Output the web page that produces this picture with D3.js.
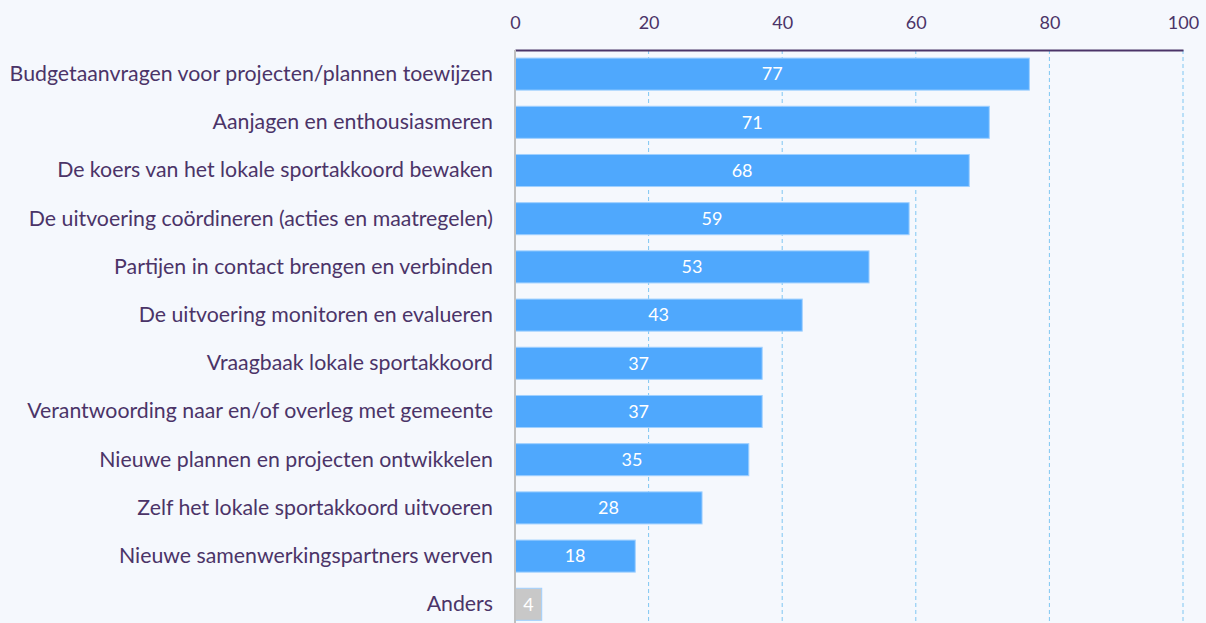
<!DOCTYPE html>
<html>
<head>
<meta charset="utf-8">
<script src="https://cdn.jsdelivr.net/npm/d3@7"></script>
<style>
  body { margin: 0; background: #f5f8fd; font-family: Lato, "Noto Sans", sans-serif; }
</style>
</head>
<body>
<script>
var categories = [
  "Budgetaanvragen voor projecten/plannen toewijzen",
  "Aanjagen en enthousiasmeren",
  "De koers van het lokale sportakkoord bewaken",
  "De uitvoering coördineren (acties en maatregelen)",
  "Partijen in contact brengen en verbinden",
  "De uitvoering monitoren en evalueren",
  "Vraagbaak lokale sportakkoord",
  "Verantwoording naar en/of overleg met gemeente",
  "Nieuwe plannen en projecten ontwikkelen",
  "Zelf het lokale sportakkoord uitvoeren",
  "Nieuwe samenwerkingspartners werven",
  "Anders"
];
var values = [77, 71, 68, 59, 53, 43, 37, 37, 35, 28, 18, 4];
var xTicks = [0, 20, 40, 60, 80, 100];

var W = 1206, H = 623;
var plotLeft = 515, plotRight = 1183, plotTop = 50;

var svg = d3.select("body").append("svg")
    .attr("width", W)
    .attr("height", H)
    .style("display", "block");

var x = d3.scaleLinear().domain([0, 100]).range([plotLeft, plotRight]);
var y = d3.scaleBand()
    .domain(categories)
    .range([plotTop, plotTop + 12 * 48.2])
    .paddingInner(0.335)
    .paddingOuter(0.1675);

// gridlines
svg.append("g")
  .selectAll("line")
  .data(xTicks.slice(1))
  .enter().append("line")
    .attr("x1", function(d) { return x(d); })
    .attr("x2", function(d) { return x(d); })
    .attr("y1", plotTop)
    .attr("y2", H)
    .attr("stroke", "#7fc6f2")
    .attr("stroke-width", 1)
    .attr("stroke-dasharray", "4,3");

// bars
svg.selectAll(".bar")
    .data(values)
  .enter().append("rect")
    .attr("class", "bar")
    .attr("x", x(0))
    .attr("y", function(d, i) { return y(categories[i]); })
    .attr("width", function(d) { return x(d) - x(0); })
    .attr("height", y.bandwidth())
    .attr("fill", function(d, i) { return categories[i] == "Anders" ? "#c8c8c8" : "#4fa8fd"; })
    .attr("stroke", "#9fd0ff")
    .attr("stroke-width", 1);

// value labels
svg.selectAll(".val")
    .data(values)
  .enter().append("text")
    .attr("x", function(d) { return (x(0) + x(d)) / 2; })
    .attr("y", function(d, i) { return y(categories[i]) + y.bandwidth() / 2; })
    .attr("dy", "0.35em")
    .attr("text-anchor", "middle")
    .attr("fill", "#ffffff")
    .style("font-size", "18px")
    .text(function(d) { return d; });

// top axis
var xAxis = svg.append("g")
    .attr("transform", "translate(0," + plotTop + ")")
    .call(d3.axisTop(x).tickValues(xTicks).tickSize(0).tickPadding(21));
xAxis.select(".domain").attr("stroke", "#4b3468").attr("stroke-width", 2);
xAxis.selectAll("text")
    .attr("fill", "#4b3468")
    .style("font-size", "18px")
    .style("font-family", "Lato, sans-serif");

// left axis
var yAxis = svg.append("g")
    .attr("transform", "translate(" + plotLeft + ",0)")
    .call(d3.axisLeft(y).tickSize(0).tickPadding(22));
yAxis.select(".domain").remove();
yAxis.selectAll("text")
    .attr("fill", "#4b3468")
    .style("font-size", "21.3px")
    .style("font-family", "Lato, sans-serif");
svg.append("line")
    .attr("x1", plotLeft).attr("x2", plotLeft)
    .attr("y1", plotTop).attr("y2", H)
    .attr("stroke", "#c0c0c0")
    .attr("stroke-width", 2);
</script>
</body>
</html>
